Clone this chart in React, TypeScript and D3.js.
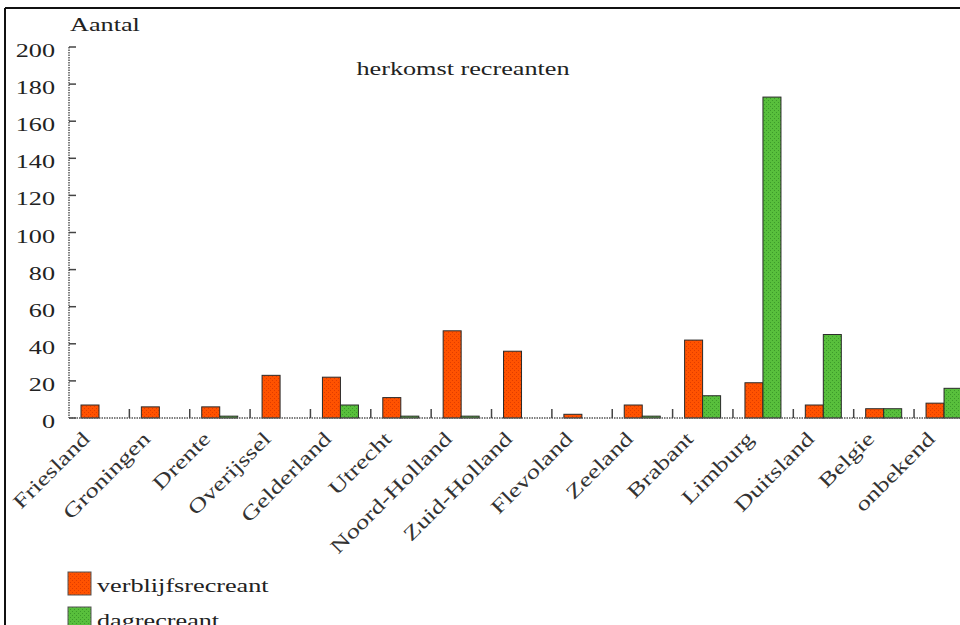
import React from "react";
import * as d3 from "d3";

const categories = [
  "Friesland", "Groningen", "Drente", "Overijssel", "Gelderland", "Utrecht",
  "Noord-Holland", "Zuid-Holland", "Flevoland", "Zeeland", "Brabant",
  "Limburg", "Duitsland", "Belgie", "onbekend",
];
const verblijfsrecreant = [7, 6, 6, 23, 22, 11, 47, 36, 2, 7, 42, 19, 7, 5, 8];
const dagrecreant = [0, 0, 1, 0, 7, 1, 1, 0, 0, 1, 12, 173, 45, 5, 16];
const yTicks = [0, 20, 40, 60, 80, 100, 120, 140, 160, 180, 200];
const seriesNames = ["verblijfsrecreant", "dagrecreant"];
const title = "herkomst recreanten";
const yTitle = "Aantal";

const W = 960;
const H = 625;
const FONT = "'Liberation Serif', 'Times New Roman', serif";
const SX = 1.38;
const ORANGE = "#ff5200";
const ORANGE_DOT = "#e03c00";
const GREEN = "#58bf3c";
const GREEN_DOT = "#3c9a2a";
const TEXT = "#222";

export default function App() {
  const x0 = 69;
  const step = 60.36;
  const x = d3
    .scaleBand<string>()
    .domain(categories)
    .range([x0, x0 + step * categories.length])
    .padding(0);
  const y = d3.scaleLinear().domain([0, 200]).range([418, 47]);
  const barW = 18;
  const off = 12;

  const series = [
    { name: seriesNames[0], values: verblijfsrecreant, fill: "url(#pOrange)" },
    { name: seriesNames[1], values: dagrecreant, fill: "url(#pGreen)" },
  ];

  return (
    <svg
      width={W}
      height={H}
      style={{ position: "absolute", left: 0, top: 0, background: "#fff" }}
    >
      <defs>
        <pattern id="pOrange" width="4" height="4" patternUnits="userSpaceOnUse">
          <rect width="4" height="4" fill={ORANGE} />
          <rect x="0" y="0" width="1" height="1" fill={ORANGE_DOT} />
          <rect x="2" y="2" width="1" height="1" fill={ORANGE_DOT} />
        </pattern>
        <pattern id="pGreen" width="4" height="4" patternUnits="userSpaceOnUse">
          <rect width="4" height="4" fill={GREEN} />
          <rect x="0" y="0" width="1" height="1" fill={GREEN_DOT} />
          <rect x="2" y="2" width="1" height="1" fill={GREEN_DOT} />
        </pattern>
      </defs>
      <rect x="0" y="0" width={W} height={H} fill="#fff" />
      {/* frame */}
      <line x1={5} y1={8} x2={W} y2={8} stroke="#111" strokeWidth={2} />
      <line x1={5} y1={8} x2={5} y2={H} stroke="#111" strokeWidth={2} />

      {/* title */}
      <text
        transform={`translate(463,75) scale(${SX},1)`}
        textAnchor="middle"
        fontFamily={FONT}
        fontSize={19}
        fill={TEXT}
      >
        {title}
      </text>
      <text
        transform={`translate(70,31) scale(${SX},1)`}
        fontFamily={FONT}
        fontSize={19}
        fill={TEXT}
      >
        {yTitle}
      </text>

      {/* y axis */}
      <line
        x1={69}
        x2={69}
        y1={y(200)}
        y2={y(0)}
        stroke="#555"
        strokeWidth={1.5}
        strokeDasharray="1.5 1"
      />
      {yTicks.map((t) => (
        <g key={t}>
          <line x1={69} x2={76} y1={y(t)} y2={y(t)} stroke="#444" strokeWidth={1.5} />
          <text
            transform={`translate(55,${y(t) + 10}) scale(${SX},1)`}
            textAnchor="end"
            fontFamily={FONT}
            fontSize={19}
            fill={TEXT}
          >
            {t}
          </text>
        </g>
      ))}

      {/* bars */}
      {series.map((s, si) =>
        categories.map((c, i) => {
          const v = s.values[i];
          if (!v) return null;
          const bx = (x(c) as number) + off + si * barW;
          return (
            <rect
              key={s.name + c}
              x={bx}
              y={y(v)}
              width={barW}
              height={y(0) - y(v)}
              fill={s.fill}
              stroke="#2a2a2a"
              strokeWidth={1}
            />
          );
        })
      )}

      {/* x axis */}
      <line
        x1={69}
        x2={W}
        y1={y(0)}
        y2={y(0)}
        stroke="#555"
        strokeWidth={1.5}
        strokeDasharray="1.5 1"
      />
      {categories.slice(1).map((c) => (
        <line
          key={"t" + c}
          x1={x(c) as number}
          x2={x(c) as number}
          y1={y(0)}
          y2={y(0) - 9}
          stroke="#444"
          strokeWidth={1.5}
        />
      ))}
      {categories.map((c) => {
        const cx = (x(c) as number) + off + barW;
        return (
          <text
            key={"l" + c}
            transform={`translate(${cx - 8},440) rotate(-45) scale(1.33,1)`}
            textAnchor="end"
            fontFamily={FONT}
            fontSize={20}
            fill="#333"
          >
            {c}
          </text>
        );
      })}

      {/* legend */}
      {series.map((s, i) => (
        <g key={"lg" + s.name} transform={`translate(68,${572 + i * 35})`}>
          <rect x={0} y={0} width={23} height={23} fill={s.fill} stroke="#555" strokeWidth={1} />
          <text
            transform={`translate(29,20) scale(${SX},1)`}
            fontFamily={FONT}
            fontSize={19}
            fill={TEXT}
          >
            {s.name}
          </text>
        </g>
      ))}
    </svg>
  );
}
